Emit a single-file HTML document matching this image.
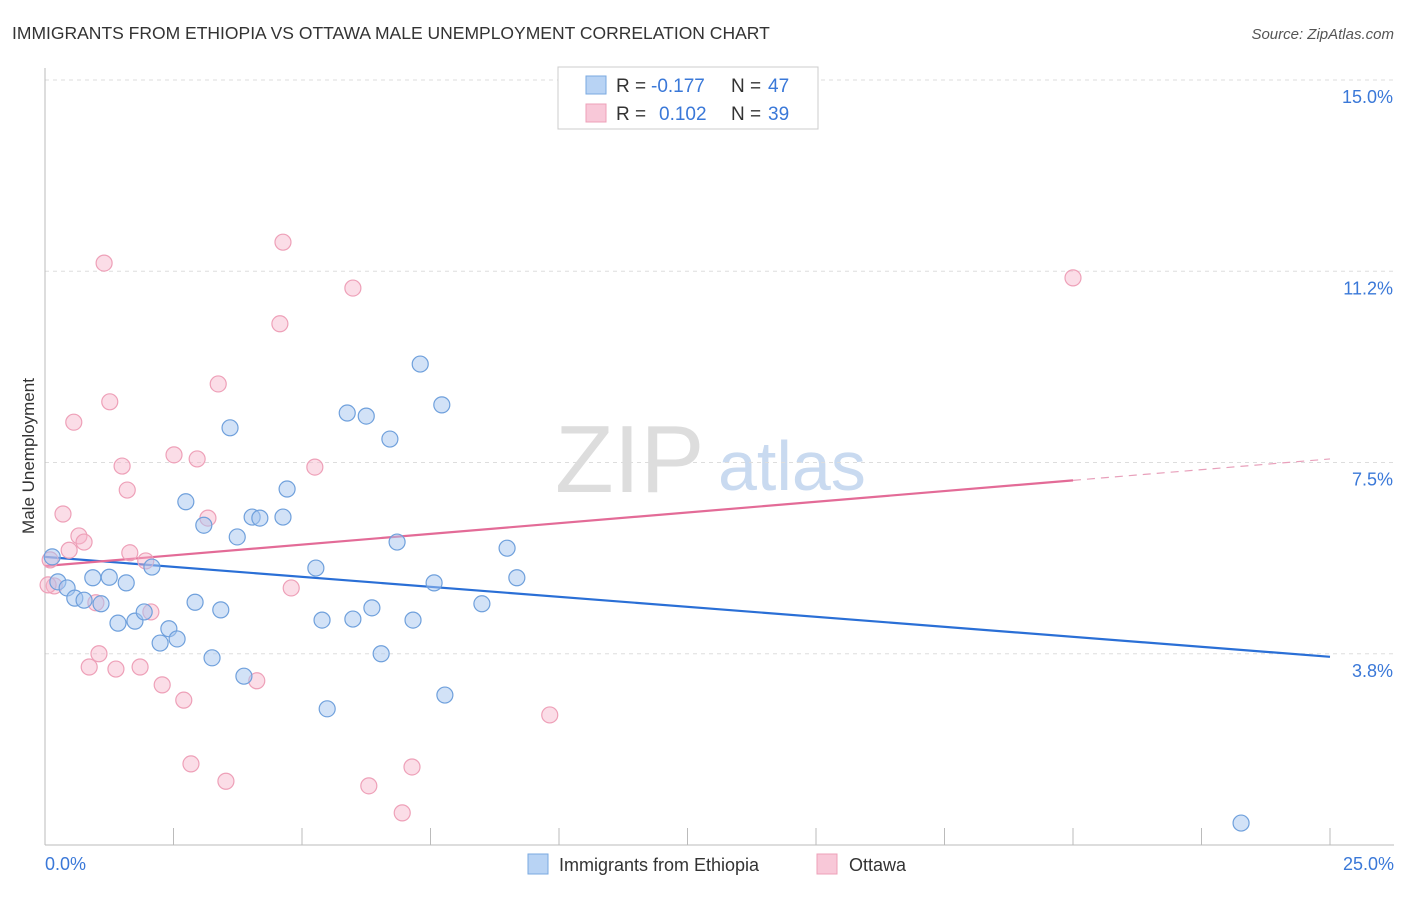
<!DOCTYPE html>
<html><head><meta charset="utf-8"><style>
body{margin:0;background:#fff;font-family:"Liberation Sans",sans-serif}
svg text{font-family:"Liberation Sans",sans-serif}
</style></head><body>
<svg id="chart" width="1406" height="892">
<text x="12" y="39" font-size="17.5" fill="#333">IMMIGRANTS FROM ETHIOPIA VS OTTAWA MALE UNEMPLOYMENT CORRELATION CHART</text>
<text x="1394" y="39" font-size="15" fill="#555" font-style="italic" text-anchor="end">Source: ZipAtlas.com</text>
<text x="555" y="492" font-size="96" fill="#ddd" font-family="Liberation Serif">ZIP</text>
<text x="718" y="490" font-size="70" fill="#c9daf0">atlas</text>
<g id="grid"></g><g id="axes"></g><g id="trends"></g><g id="points"></g>
<text transform="translate(34,456) rotate(-90)" font-size="17" fill="#333" text-anchor="middle">Male Unemployment</text>
<g>
<rect x="558" y="67" width="260" height="62" fill="#fff" stroke="#ccc"/>
<rect x="586" y="76" width="20" height="18" fill="#b8d3f4" stroke="#7aaae0"/>
<text x="616" y="92" font-size="19" fill="#333">R = </text><text x="651" y="92" font-size="19" fill="#3a78d8">-0.177</text>
<text x="731" y="92" font-size="19" fill="#333">N = </text><text x="768" y="92" font-size="19" fill="#3a78d8">47</text>
<rect x="586" y="104" width="20" height="18" fill="#f8c8d8" stroke="#eea0b8"/>
<text x="616" y="120" font-size="19" fill="#333">R = </text><text x="659" y="120" font-size="19" fill="#3a78d8">0.102</text>
<text x="731" y="120" font-size="19" fill="#333">N = </text><text x="768" y="120" font-size="19" fill="#3a78d8">39</text>
</g>
<g>
<rect x="528" y="854" width="20" height="20" fill="#b8d3f4" stroke="#7aaae0"/>
<text x="559" y="871" font-size="18" fill="#333">Immigrants from Ethiopia</text>
<rect x="817" y="854" width="20" height="20" fill="#f8c8d8" stroke="#eea0b8"/>
<text x="849" y="871" font-size="18" fill="#333">Ottawa</text>
</g>
</svg>
<script>
const yTicks=[3.75,7.5,11.25,15];
const yTickLabels=["3.8%","7.5%","11.2%","15.0%"];
const xTicks=[0,2.5,5,7.5,10,12.5,15,17.5,20,22.5,25];
const xLabels=["0.0%","25.0%"];
const blueX=[0.14,0.25,0.43,0.58,0.76,0.93,1.09,1.25,1.42,1.58,1.75,1.93,2.08,2.24,2.41,2.57,2.74,2.92,3.09,3.25,3.42,3.60,3.74,3.87,4.03,4.18,4.63,4.71,5.27,5.39,5.49,5.88,5.99,6.25,6.36,6.54,6.71,6.85,7.16,7.30,7.57,7.72,7.78,8.50,8.99,9.18,23.27];
const blueY=[5.65,5.16,5.04,4.84,4.80,5.24,4.73,5.25,4.35,5.14,4.39,4.57,5.45,3.96,4.24,4.04,6.73,4.76,6.27,3.67,4.61,8.18,6.04,3.31,6.43,6.41,6.43,6.98,5.43,4.41,2.67,8.47,4.43,8.41,4.65,3.75,7.96,5.94,4.41,9.43,5.14,8.63,2.94,4.73,5.82,5.24,0.43];
const pinkX=[0.10,0.18,0.35,0.47,0.56,0.66,0.76,0.86,0.99,1.05,1.15,1.26,1.38,1.50,1.60,1.65,1.85,1.96,2.06,2.28,2.51,2.70,2.84,2.96,3.17,3.37,3.52,4.12,4.57,4.63,4.79,5.25,5.99,6.30,6.95,7.14,9.82,20.0,0.06];
const pinkY=[5.59,5.08,6.49,5.78,8.29,6.06,5.94,3.49,4.75,3.75,11.41,8.69,3.45,7.43,6.96,5.73,3.49,5.57,4.57,3.14,7.65,2.84,1.59,7.57,6.41,9.04,1.25,3.22,10.22,11.82,5.04,7.41,10.92,1.16,0.63,1.53,2.55,11.12,5.10];
const blueTrend=[5.65,3.69];
const pinkTrend=[5.47,7.57];
const X=v=>45+v*51.4, Y=v=>845-v*51.0;
const NS="http://www.w3.org/2000/svg";
function mk(tag,attrs,parent){const e=document.createElementNS(NS,tag);for(const k in attrs)e.setAttribute(k,attrs[k]);parent.appendChild(e);return e;}
const grid=document.getElementById('grid'),axes=document.getElementById('axes'),tr=document.getElementById('trends'),pts=document.getElementById('points');
yTicks.forEach((t,i)=>{
 const l=mk('line',{x1:45,x2:1394,y1:Y(t),y2:Y(t),stroke:'#ddd','stroke-dasharray':'4,4'},grid);
 
 
 const tx=mk('text',{x:1393,y:Y(t)+23,'font-size':18,fill:'#3a78d8','text-anchor':'end'},axes);
 tx.textContent=yTickLabels[i];
 
 
});
const ax=mk('line',{x1:45,x2:1394,y1:845,y2:845,stroke:'#bbb'},axes);


const ay=mk('line',{x1:45,x2:45,y1:68,y2:845,stroke:'#bbb'},axes);


xTicks.forEach(t=>{const l=mk('line',{x1:X(t),x2:X(t),y1:828,y2:845,stroke:'#bbb'},axes);
 
 });
const xl0=mk('text',{x:45,y:870,'font-size':18,fill:'#3a78d8'},axes);xl0.textContent=xLabels[0];


const xl1=mk('text',{x:1394,y:870,'font-size':18,fill:'#3a78d8','text-anchor':'end'},axes);xl1.textContent=xLabels[1];


function dot(x,y,f,s,n){const c=mk('circle',{cx:X(x),cy:Y(y),r:8,fill:f,stroke:s,'stroke-width':1.2},pts);
 
 }
pinkX.forEach((x,i)=>dot(x,pinkY[i],'rgba(246,180,202,0.45)','#eea0b8','ottawa-point'));
blueX.forEach((x,i)=>dot(x,blueY[i],'rgba(165,198,240,0.5)','#6fa0dc','ethiopia-point'));
const bt=mk('line',{x1:X(0),y1:Y(blueTrend[0]),x2:X(25),y2:Y(blueTrend[1]),stroke:'#2a6fd6','stroke-width':2.2},tr);


const pAt=x=>pinkTrend[0]+(pinkTrend[1]-pinkTrend[0])*x/25;
const pt=mk('line',{x1:X(0),y1:Y(pAt(0)),x2:X(20),y2:Y(pAt(20)),stroke:'#e36b97','stroke-width':2.2},tr);


const pd=mk('line',{x1:X(20),y1:Y(pAt(20)),x2:X(25),y2:Y(pAt(25)),stroke:'#e8a0bb','stroke-width':1.2,'stroke-dasharray':'8,6'},tr);


</script>
</body></html>
